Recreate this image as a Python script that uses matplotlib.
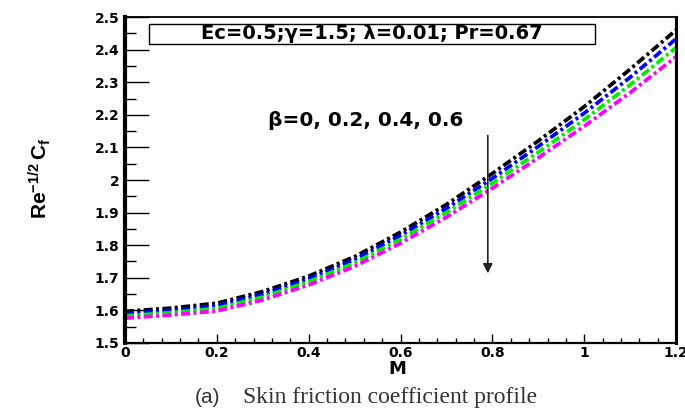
import numpy as np
import matplotlib.pyplot as plt
from matplotlib.ticker import MultipleLocator
from matplotlib.patches import Rectangle

M = [0, 0.1, 0.2, 0.3, 0.4, 0.5, 0.6, 0.7, 0.8, 0.9, 1.0, 1.1, 1.2]
cf_b0 = [1.597, 1.607, 1.622, 1.658, 1.705, 1.765, 1.840, 1.925, 2.020, 2.120, 2.225, 2.340, 2.460]
cf_b02 = [1.590, 1.600, 1.614, 1.650, 1.697, 1.756, 1.830, 1.913, 2.005, 2.103, 2.205, 2.315, 2.433]
cf_b04 = [1.583, 1.593, 1.606, 1.641, 1.688, 1.746, 1.818, 1.900, 1.990, 2.085, 2.185, 2.292, 2.406]
cf_b06 = [1.576, 1.586, 1.598, 1.632, 1.678, 1.735, 1.806, 1.886, 1.975, 2.068, 2.165, 2.268, 2.378]
series = [cf_b0, cf_b02, cf_b04, cf_b06]
colors = ['black', '#0000ff', '#00ee00', '#ff00ff']

xticks = [0, 0.2, 0.4, 0.6, 0.8, 1.0, 1.2]
xlabels = ['0', '0.2', '0.4', '0.6', '0.8', '1', '1.2']
yticks = [1.5, 1.6, 1.7, 1.8, 1.9, 2.0, 2.1, 2.2, 2.3, 2.4, 2.5]
ylabels = ['1.5', '1.6', '1.7', '1.8', '1.9', '2', '2.1', '2.2', '2.3', '2.4', '2.5']

plt.rcParams['font.family'] = ['DejaVu Sans']
plt.rcParams['mathtext.fontset'] = 'custom'
plt.rcParams['mathtext.rm'] = 'Liberation Sans:bold'
plt.rcParams['mathtext.bf'] = 'Liberation Sans:bold'
plt.rcParams['mathtext.it'] = 'Liberation Sans:bold'

fig = plt.figure(figsize=(6.85, 4.12), dpi=100)
ax = fig.add_axes([0.1825, 0.1675, 0.8045, 0.7912])

for vals, c in zip(series, colors):
    ax.plot(M, vals, color=c, lw=2.7, linestyle=(0, (2.4, 0.9, 0.8, 0.9)))

ax.set_xlim(0, 1.2)
ax.set_ylim(1.5, 2.5)
ax.set_xticks(xticks, labels=xlabels, fontweight='bold', fontsize=10)
ax.set_yticks(yticks, labels=ylabels, fontweight='bold', fontsize=10)
ax.xaxis.set_minor_locator(MultipleLocator(0.04))
ax.yaxis.set_minor_locator(MultipleLocator(0.05))
ax.tick_params(which='both', direction='in', top=False, right=False)
ax.tick_params(axis='y', which='major', length=17, width=1, pad=4)
ax.tick_params(axis='y', which='minor', length=8, width=1)
ax.tick_params(axis='x', which='major', length=6.5, width=1, pad=2)
ax.tick_params(axis='x', which='minor', length=3.5, width=1)

ax.spines['left'].set_linewidth(3)
ax.spines['right'].set_linewidth(2.2)
ax.spines['bottom'].set_linewidth(1.6)
ax.spines['top'].set_linewidth(1.3)

ax.set_xlabel('M', fontsize=13, fontweight='bold')
ax.xaxis.set_label_coords(0.494, -0.052)
ax.set_ylabel(r'$\mathbf{Re^{-1/2}\,C_f}$', fontsize=15)
ax.yaxis.set_label_coords(-0.13, 0.506)

ax.add_patch(Rectangle((0.052, 2.417), 0.972, 0.0615, facecolor='white', edgecolor='black', lw=1, zorder=3))
ax.text(0.538, 2.448, 'Ec=0.5;\u03b3=1.5; \u03bb=0.01; Pr=0.67', fontsize=14, fontweight='bold',
        ha='center', va='center', zorder=4)

ax.text(0.312, 2.184, '\u03b2=0, 0.2, 0.4, 0.6', fontsize=14.5, fontweight='bold', ha='left', va='center')
ax.annotate('', xy=(0.79, 1.705), xytext=(0.79, 2.145),
            arrowprops=dict(arrowstyle='-|>', color='#222222', lw=1.2, mutation_scale=14))

fig.text(0.285, 0.034, '(a)', fontsize=15, ha='left', va='center', color='#333333',
         family=['Liberation Sans', 'DejaVu Sans'])
fig.text(0.355, 0.034, 'Skin friction coefficient profile', fontsize=17, ha='left', va='center',
         family=['Liberation Serif', 'DejaVu Serif'], color='#333333')

fig.savefig('out.png', dpi=100)
